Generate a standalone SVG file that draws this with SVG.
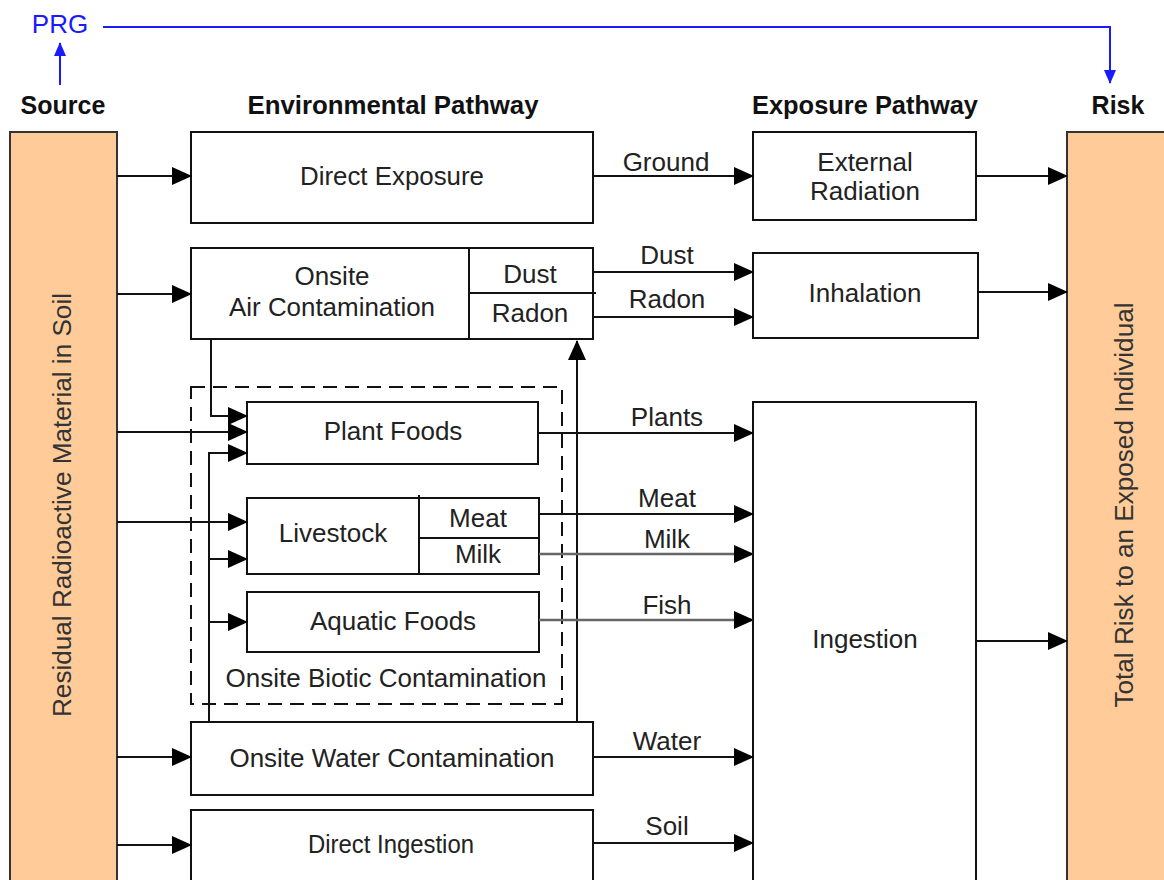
<svg xmlns="http://www.w3.org/2000/svg" width="1164" height="880" viewBox="0 0 1164 880">
<style>
text{font-family:"Liberation Sans",Arial,sans-serif;font-size:26px;fill:#222;text-anchor:middle}
.h{font-weight:bold;fill:#111;font-size:25px}
.box{fill:#fff;stroke:#111;stroke-width:2}
.src{fill:#FFCC99;stroke:#333;stroke-width:2}
.ln{fill:none;stroke:#111;stroke-width:2}
.gl{fill:none;stroke:#666;stroke-width:2.5}
.ar{marker-end:url(#ah)}
.bl{fill:none;stroke:#1a1aff;stroke-width:2;marker-end:url(#bh)}
.vt{fill:#333}
</style>
<defs>
<marker id="ah" markerUnits="userSpaceOnUse" markerWidth="20" markerHeight="18" refX="19" refY="9" orient="auto"><path d="M0,0 L20,9 L0,18 z" fill="#000"/></marker>
<marker id="bh" markerUnits="userSpaceOnUse" markerWidth="14" markerHeight="14" refX="13" refY="7" orient="auto"><path d="M0,1 L14,7 L0,13 z" fill="#1a1aff"/></marker>
</defs>
<rect width="1164" height="880" fill="#fff"/>
<g id="headers">
<text x="60" y="33" style="fill:#1a1aff">PRG</text>
<text class="h" x="63" y="114">Source</text>
<text class="h" x="393" y="114" textLength="291" lengthAdjust="spacingAndGlyphs">Environmental Pathway</text>
<text class="h" x="865" y="114" textLength="226" lengthAdjust="spacingAndGlyphs">Exposure Pathway</text>
<text class="h" x="1118" y="114">Risk</text>
</g>
<g id="source">
<rect class="src" x="10" y="132" width="107" height="760"/>
<text class="vt" transform="translate(71,505) rotate(-90)" textLength="424" lengthAdjust="spacingAndGlyphs">Residual Radioactive Material in Soil</text>
</g>
<g id="risk">
<rect class="src" x="1067" y="132" width="110" height="760"/>
<text class="vt" transform="translate(1133,505) rotate(-90)" textLength="405" lengthAdjust="spacingAndGlyphs">Total Risk to an Exposed Individual</text>
</g>
<g id="direct-exposure">
<rect class="box" x="191" y="132" width="402" height="91"/>
<text x="392" y="185" textLength="184" lengthAdjust="spacingAndGlyphs">Direct Exposure</text>
</g>
<g id="external-radiation">
<rect class="box" x="753" y="132" width="223" height="88"/>
<text x="865" y="171">External</text>
<text x="865" y="200">Radiation</text>
</g>
<g id="onsite-air">
<rect class="box" x="191" y="248" width="402" height="91"/>
<line class="ln" x1="469" y1="248" x2="469" y2="339"/>
<line class="ln" x1="469" y1="293" x2="596" y2="293"/>
<text x="332" y="285">Onsite</text>
<text x="332" y="316" textLength="206" lengthAdjust="spacingAndGlyphs">Air Contamination</text>
<text x="530" y="283">Dust</text>
<text x="530" y="322">Radon</text>
</g>
<g id="inhalation">
<rect class="box" x="753" y="253" width="225" height="85"/>
<text x="865" y="302">Inhalation</text>
</g>
<g id="onsite-biotic">
<rect x="191" y="387" width="371" height="317" fill="none" stroke="#111" stroke-width="2" stroke-dasharray="14,8"/>
<text x="386" y="687">Onsite Biotic Contamination</text>
</g>
<g id="plant-foods">
<rect class="box" x="247" y="402" width="291" height="62"/>
<text x="393" y="440">Plant Foods</text>
</g>
<g id="livestock">
<rect class="box" x="247" y="498" width="292" height="76"/>
<line class="ln" x1="419" y1="495" x2="419" y2="574"/>
<line class="ln" x1="419" y1="538" x2="539" y2="538"/>
<text x="333" y="542">Livestock</text>
<text x="478" y="527">Meat</text>
<text x="478" y="563">Milk</text>
</g>
<g id="aquatic-foods">
<rect class="box" x="247" y="592" width="292" height="60"/>
<text x="393" y="630">Aquatic Foods</text>
</g>
<g id="onsite-water">
<rect class="box" x="191" y="722" width="402" height="73"/>
<text x="392" y="767" textLength="325" lengthAdjust="spacingAndGlyphs">Onsite Water Contamination</text>
</g>
<g id="direct-ingestion">
<rect class="box" x="191" y="810" width="402" height="80"/>
<text x="391" y="853" textLength="166" lengthAdjust="spacingAndGlyphs">Direct Ingestion</text>
</g>
<g id="ingestion">
<rect class="box" x="753" y="402" width="223" height="490"/>
<text x="865" y="648">Ingestion</text>
</g>
<g id="connectors">
<polyline class="bl" points="60,85 60,43"/>
<polyline class="bl" points="103,27 1110,27 1110,83"/>
<line class="ln ar" x1="117" y1="176" x2="191" y2="176"/>
<line class="ln ar" x1="117" y1="294" x2="191" y2="294"/>
<line class="ln ar" x1="117" y1="432" x2="247" y2="432"/>
<line class="ln ar" x1="117" y1="522" x2="247" y2="522"/>
<line class="ln ar" x1="117" y1="757" x2="191" y2="757"/>
<line class="ln ar" x1="117" y1="845" x2="191" y2="845"/>
<polyline class="ln ar" points="211,339 211,416 247,416"/>
<polyline class="ln ar" points="209,722 209,453 247,453"/>
<line class="ln ar" x1="209" y1="559" x2="247" y2="559"/>
<line class="ln ar" x1="209" y1="622" x2="247" y2="622"/>
<line class="ln ar" x1="577" y1="722" x2="577" y2="341"/>
<line class="ln ar" x1="593" y1="176" x2="753" y2="176"/>
<text x="666" y="171">Ground</text>
<line class="ln ar" x1="593" y1="272" x2="753" y2="272"/>
<text x="667" y="264">Dust</text>
<line class="ln ar" x1="593" y1="317" x2="753" y2="317"/>
<text x="667" y="308">Radon</text>
<line class="ln ar" x1="538" y1="433" x2="753" y2="433"/>
<text x="667" y="426">Plants</text>
<line class="ln ar" x1="539" y1="514" x2="753" y2="514"/>
<text x="667" y="507">Meat</text>
<line class="gl ar" x1="539" y1="554" x2="753" y2="554"/>
<text x="667" y="548">Milk</text>
<line class="gl ar" x1="539" y1="620" x2="753" y2="620"/>
<text x="667" y="614">Fish</text>
<line class="ln ar" x1="593" y1="757" x2="753" y2="757"/>
<text x="667" y="750">Water</text>
<line class="ln ar" x1="593" y1="843" x2="753" y2="843"/>
<text x="667" y="835">Soil</text>
<line class="ln ar" x1="976" y1="176" x2="1067" y2="176"/>
<line class="ln ar" x1="978" y1="292" x2="1067" y2="292"/>
<line class="ln ar" x1="976" y1="641" x2="1067" y2="641"/>
</g>
</svg>
